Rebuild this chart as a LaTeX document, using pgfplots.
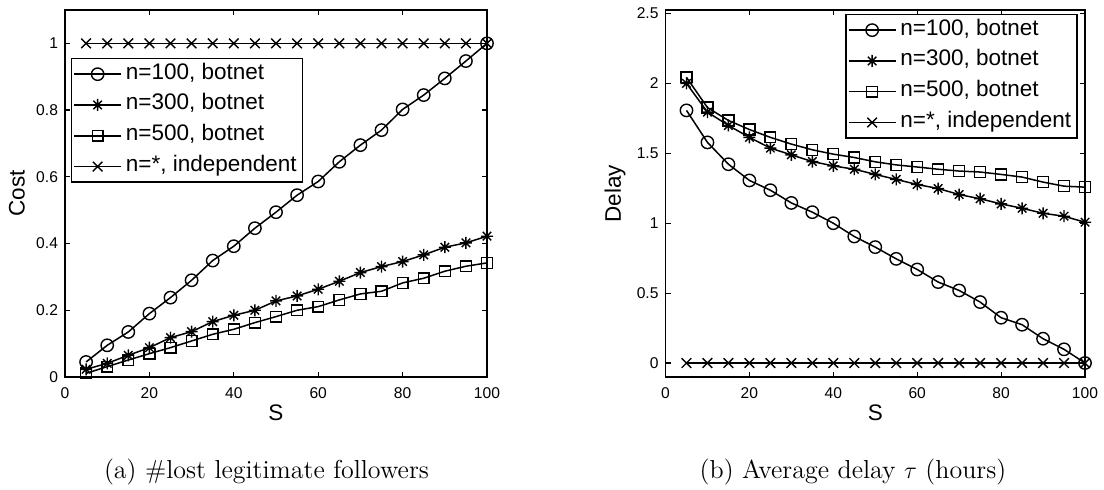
\documentclass[border=0pt]{standalone}
\usepackage{fontspec}
\usepackage{pgfplots}
\pgfplotsset{compat=1.18}
\newfontfamily\arial{Liberation Sans}

% MATLAB-like asterisk (plus and cross combined) and cross marks
\pgfdeclareplotmark{mstar}{%
  \pgfpathmoveto{\pgfqpoint{-\pgfplotmarksize}{0pt}}%
  \pgfpathlineto{\pgfqpoint{\pgfplotmarksize}{0pt}}%
  \pgfpathmoveto{\pgfqpoint{0pt}{-\pgfplotmarksize}}%
  \pgfpathlineto{\pgfqpoint{0pt}{\pgfplotmarksize}}%
  \pgfpathmoveto{\pgfqpoint{-0.7071\pgfplotmarksize}{-0.7071\pgfplotmarksize}}%
  \pgfpathlineto{\pgfqpoint{0.7071\pgfplotmarksize}{0.7071\pgfplotmarksize}}%
  \pgfpathmoveto{\pgfqpoint{-0.7071\pgfplotmarksize}{0.7071\pgfplotmarksize}}%
  \pgfpathlineto{\pgfqpoint{0.7071\pgfplotmarksize}{-0.7071\pgfplotmarksize}}%
  \pgfusepathqstroke}
\pgfdeclareplotmark{mx}{%
  \pgfpathmoveto{\pgfqpoint{-\pgfplotmarksize}{-\pgfplotmarksize}}%
  \pgfpathlineto{\pgfqpoint{\pgfplotmarksize}{\pgfplotmarksize}}%
  \pgfpathmoveto{\pgfqpoint{-\pgfplotmarksize}{\pgfplotmarksize}}%
  \pgfpathlineto{\pgfqpoint{\pgfplotmarksize}{-\pgfplotmarksize}}%
  \pgfusepathqstroke}

\pgfplotsset{
  mat/.style={
    scale only axis, width=211pt, height=183.5pt,
    xmin=0, xmax=100, xtick={0,20,...,100},
    tick align=inside, major tick length=2.5pt,
    every tick/.style={black, line width=0.6pt},
    axis line style={line width=0.7pt},
    /pgf/number format/assume math mode=true,
    tick label style={font=\arial\fontsize{7.8}{9}\selectfont},
    xticklabel style={yshift=-2pt},
    label style={font=\arial\fontsize{11.25}{13}\selectfont},
    xlabel style={at={(axis description cs:0.5,0)}, anchor=center, yshift=-17.75pt},
    legend cell align=left,
    legend style={font=\arial\fontsize{11.25}{13}\selectfont, draw=black,
      line width=0.7pt, inner ysep=0pt, inner xsep=1pt,
      nodes={inner xsep=2pt, inner ysep=2.7pt, text height=0.75em, text depth=0.25em}},
    legend image code/.code={%
      \draw[line width=0.75pt, mark repeat=2, mark phase=2] plot coordinates {(0pt,0pt) (11.75pt,0pt) (23.5pt,0pt)};},
    every axis plot/.append style={black, line width=0.75pt, mark options={solid, line width=0.7pt}},
  },
  circ/.style={mark=o, mark size=3.1pt},
  ast/.style={mark=mstar, mark size=3pt},
  sqr/.style={mark=square, mark size=2.7pt},
  crs/.style={mark=mx, mark size=2.4pt},
}

% Cost (#lost legitimate followers)
\pgfplotstableread{
S    n100   n300   n500   indep
5    0.045  0.023  0.011  1
10   0.095  0.041  0.031  1
15   0.135  0.065  0.051  1
20   0.190  0.088  0.070  1
25   0.238  0.118  0.088  1
30   0.290  0.136  0.108  1
35   0.349  0.166  0.128  1
40   0.392  0.185  0.143  1
45   0.446  0.200  0.163  1
50   0.494  0.228  0.181  1
55   0.545  0.243  0.200  1
60   0.586  0.263  0.211  1
65   0.645  0.287  0.231  1
70   0.695  0.313  0.249  1
75   0.740  0.331  0.257  1
80   0.802  0.346  0.282  1
85   0.845  0.366  0.296  1
90   0.895  0.389  0.317  1
95   0.947  0.402  0.332  1
100  1.000  0.422  0.342  1
}\costtable

% Average delay (hours)
\pgfplotstableread{
S    n100   n300   n500   indep
5    1.807  2.000  2.043  0
10   1.578  1.795  1.827  0
15   1.422  1.699  1.735  0
20   1.306  1.614  1.670  0
25   1.236  1.537  1.614  0
30   1.145  1.489  1.566  0
35   1.079  1.441  1.525  0
40   1.000  1.410  1.494  0
45   0.905  1.386  1.470  0
50   0.829  1.349  1.439  0
55   0.745  1.313  1.417  0
60   0.669  1.277  1.402  0
65   0.579  1.248  1.386  0
70   0.519  1.205  1.373  0
75   0.436  1.175  1.366  0
80   0.324  1.138  1.349  0
85   0.274  1.107  1.330  0
90   0.174  1.071  1.294  0
95   0.098  1.050  1.265  0
100  0.000  1.007  1.258  0
}\delaytable

\begin{document}
\begin{tikzpicture}
\useasboundingbox (0,0) rectangle (552pt,244.5pt);

\begin{axis}[mat,
  at={(32.5pt,56pt)}, anchor=south west,
  ymin=0, ymax=1.1, ytick={0,0.2,...,1},
  xlabel={S}, ylabel={Cost},
  ylabel style={at={(axis description cs:-0.114,0.5)}, anchor=center},
  legend style={at={(0.0135,0.869)}, anchor=north west},
]
\addplot[circ] table[x=S, y=n100] {\costtable};
\addplot[ast]  table[x=S, y=n300] {\costtable};
\addplot[sqr]  table[x=S, y=n500] {\costtable};
\addplot[crs]  table[x=S, y=indep] {\costtable};
\legend{{n=100, botnet},{n=300, botnet},{n=500, botnet},{n=*, independent}}
\end{axis}

\begin{axis}[mat,
  at={(332.75pt,56pt)}, anchor=south west, width=209.75pt,
  ymin=-0.1, ymax=2.525, ytick={0,0.5,...,2.5},
  xlabel={S}, ylabel={Delay},
  ylabel style={at={(axis description cs:-0.12,0.5)}, anchor=center},
  legend style={at={(0.983,0.989)}, anchor=north east},
]
\addplot[circ] table[x=S, y=n100] {\delaytable};
\addplot[ast]  table[x=S, y=n300] {\delaytable};
\addplot[sqr]  table[x=S, y=n500] {\delaytable};
\addplot[crs]  table[x=S, y=indep] {\delaytable};
\legend{{n=100, botnet},{n=300, botnet},{n=500, botnet},{n=*, independent}}
\end{axis}

\node[anchor=base, font=\fontsize{13}{15}\selectfont] at (133.25pt,5.25pt) {(a) \#lost legitimate followers};
\node[anchor=base, font=\fontsize{13}{15}\selectfont] at (426.5pt,5.25pt) {(b) Average delay $\tau$ (hours)};
\end{tikzpicture}
\end{document}
